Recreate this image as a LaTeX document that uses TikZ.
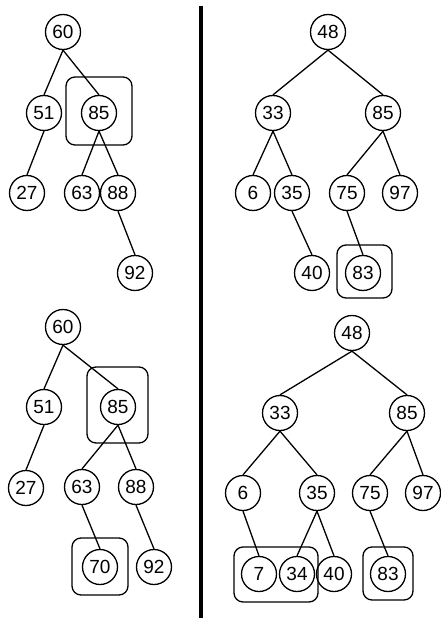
\documentclass[tikz,border=0pt]{standalone}
\usepackage{fontspec}
\setmainfont{Liberation Sans}
\begin{document}
\begin{tikzpicture}[x=1pt,y=-1pt,
  nd/.style={circle,draw,line width=1.3pt,minimum size=35pt,inner sep=0pt,font=\fontsize{19}{19}\selectfont},
  hl/.style={draw,line width=1.3pt,rounded corners=9pt},
  ed/.style={line width=1.3pt},
  sep/.style={line width=3.5pt}]
\useasboundingbox[fill=white] (0,0) rectangle (441,618);
% separator
\coordinate (st) at (201,6);
\coordinate (sb) at (201,618);
\draw[sep] (st) -- (sb);
% top-left tree
\node[nd] (a60) at (63,32) {60};
\node[nd] (a51) at (44,113) {51};
\node[nd] (a85) at (99,113) {85};
\node[nd] (a27) at (27,193) {27};
\node[nd] (a63) at (82,193) {63};
\node[nd] (a88) at (118,193) {88};
\node[nd] (a92) at (135,273) {92};
\draw[hl] (66,77) rectangle (132,145);
\foreach \p/\c in {a60/a51,a60/a85,a51/a27,a85/a63,a85/a88,a88/a92}
  \draw[ed] (\p.south) -- (\c.north);
% top-right tree
\node[nd] (b48) at (328,32) {48};
\node[nd] (b33) at (273,113) {33};
\node[nd] (b85) at (383,113) {85};
\node[nd] (b6) at (253,193) {6};
\node[nd] (b35) at (292,193) {35};
\node[nd] (b75) at (347,193) {75};
\node[nd] (b97) at (400,193) {97};
\node[nd] (b40) at (312,273) {40};
\node[nd] (b83) at (363,273) {83};
\draw[hl] (337,245) rectangle (392,298);
\foreach \p/\c in {b48/b33,b48/b85,b33/b6,b33/b35,b85/b75,b85/b97,b35/b40,b75/b83}
  \draw[ed] (\p.south) -- (\c.north);
% bottom-left tree
\node[nd] (c60) at (63,327) {60};
\node[nd] (c51) at (44,407) {51};
\node[nd] (c85) at (118,407) {85};
\node[nd] (c27) at (26,488) {27};
\node[nd] (c63) at (82,487) {63};
\node[nd] (c88) at (136,487) {88};
\node[nd] (c70) at (100,567) {70};
\node[nd] (c92) at (154,567) {92};
\draw[hl] (87,367) rectangle (148,443);
\draw[hl] (72,538) rectangle (128,595);
\foreach \p/\c in {c60/c51,c60/c85,c51/c27,c85/c63,c85/c88,c63/c70,c88/c92}
  \draw[ed] (\p.south) -- (\c.north);
% bottom-right tree
\node[nd] (d48) at (352,333) {48};
\node[nd] (d33) at (280,413) {33};
\node[nd] (d85) at (407,413) {85};
\node[nd] (d6) at (243,493) {6};
\node[nd] (d35) at (317,493) {35};
\node[nd] (d75) at (370,493) {75};
\node[nd] (d97) at (423,493) {97};
\node[nd] (d7) at (259,574) {7};
\node[nd] (d34) at (297,574) {34};
\node[nd] (d40) at (334,574) {40};
\node[nd] (d83) at (388,574) {83};
\draw[hl] (234,547) rectangle (318,602);
\draw[hl] (363,547) rectangle (413,600);
\foreach \p/\c in {d48/d33,d48/d85,d33/d6,d33/d35,d85/d75,d85/d97,d6/d7,d35/d34,d35/d40,d75/d83}
  \draw[ed] (\p.south) -- (\c.north);
\end{tikzpicture}
\end{document}
